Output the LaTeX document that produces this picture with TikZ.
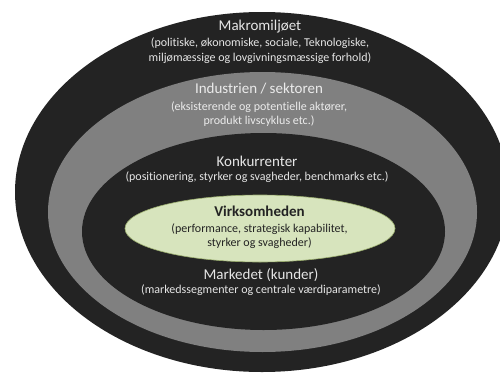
\documentclass[tikz,border=0pt]{standalone}
\usepackage{fontspec}
\setmainfont{Carlito}[Ligatures=CommonOff]
\usepackage{tikz}
\usetikzlibrary{positioning,shapes.geometric}

\definecolor{ringdark}{HTML}{232323}
\definecolor{ringgrey}{HTML}{808080}
\definecolor{corefill}{HTML}{D7E4BD}
\definecolor{coreline}{HTML}{9BAE6E}
\definecolor{lighttext}{HTML}{E6E6E6}

\begin{document}
\begin{tikzpicture}[
  x=1pt,y=-1pt,
  node distance=1pt and 0pt,
  ring/.style={ellipse,inner sep=0pt,draw=none},
  title/.style={inner sep=0pt,anchor=base,font=\fontsize{15}{17}\selectfont,text=lighttext},
  sub/.style={inner sep=0pt,align=center,font=\fontsize{12}{14.4}\selectfont,text=lighttext}
]
\useasboundingbox (0,0) rectangle (500,372);
\clip (0,0) rectangle (500,372);
% rings, outside in
\node[ring,fill=ringdark,minimum width=494pt,minimum height=360pt] (makro) at (262,192) {};
\node[ring,fill=ringgrey,minimum width=429pt,minimum height=280pt] (industri) at (262.5,212) {};
\node[ring,fill=ringdark,minimum width=363pt,minimum height=197pt] (konkurrent) at (263.5,231.5) {};
\node[ring,fill=corefill,draw=coreline,line width=0.6pt,minimum width=270pt,minimum height=67pt] (virk) at (260,228.5) {};
% texts
\node[title] (makro-t) at (260,30.7) {\strut Makromiljøet};
\node[sub,below=2pt of makro-t] (makro-s) {(politiske, økonomiske, sociale, Teknologiske,\\miljømæssige og lovgivningsmæssige forhold)};
\node[title,text=white!92!black] (industri-t) at (259,93.3) {\strut Industrien / sektoren};
\node[sub,below=2.5pt of industri-t,text=white!92!black] (industri-s) {(eksisterende og potentielle aktører,\\produkt livscyklus etc.)};
\node[title] (konkurrent-t) at (257,166.7) {\strut Konkurrenter};
\node[sub,below=0pt of konkurrent-t] (konkurrent-s) {(positionering, styrker og svagheder, benchmarks etc.)};
\node[title,text=ringdark,font=\fontsize{15}{17}\selectfont\bfseries] (virk-t) at (259.5,216.7) {\strut Virksomheden};
\node[sub,below=1.5pt of virk-t,text=ringdark] (virk-s) {(performance, strategisk kapabilitet,\\styrker og svagheder)};
\node[title] (marked-t) at (261,279) {\strut Markedet (kunder)};
\node[sub,below=0pt of marked-t] (marked-s) {(markedssegmenter og centrale værdiparametre)};
\end{tikzpicture}
\end{document}
